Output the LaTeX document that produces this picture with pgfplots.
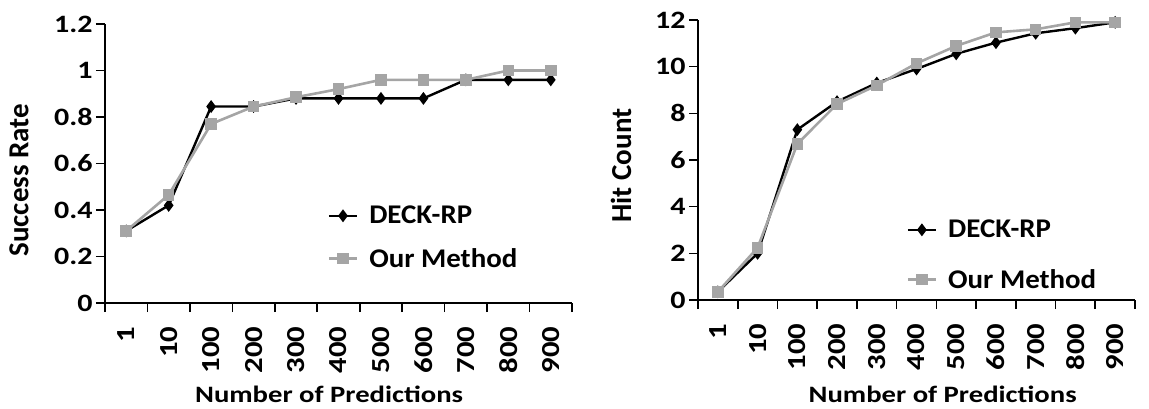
\documentclass[border=0pt]{standalone}
\usepackage{fontspec}
\setmainfont{Carlito}
\newfontfamily\ytf{Carlito}[FakeStretch=1.2]
\newfontfamily\xtf{Carlito}[FakeStretch=1.18]
\newfontfamily\xlf{Carlito}[FakeStretch=1.22]
\newfontfamily\lgf{Carlito}[FakeStretch=1.07]
\usepackage{pgfplots}
\pgfplotsset{compat=1.18}
\definecolor{ourgray}{RGB}{165,165,165}

\newcommand{\yticks}{\ytf\fontsize{25}{28}\selectfont\bfseries}
\newcommand{\xticks}{\xtf\fontsize{26}{29}\selectfont\bfseries}
\newcommand{\xlab}{\xlf\fontsize{23.5}{27}\selectfont\bfseries}
\newcommand{\ylab}{\fontsize{29}{32}\selectfont\bfseries}
\newcommand{\legf}{\lgf\fontsize{27}{30}\selectfont\bfseries}

\pgfplotsset{
  panel/.style={
    scale only axis,
    axis x line*=bottom, axis y line*=left,
    xmin=-0.5, xmax=10.5,
    xtick={-0.5,0.5,...,10.5}, xticklabels={},
    extra x ticks={0,...,10},
    extra x tick labels={1,10,100,200,300,400,500,600,700,800,900},
    extra x tick style={major tick length=0pt, xticklabel shift=20pt},
    tick align=outside, major tick length=9pt,
    tick style={line width=1.6pt, black},
    axis line style={line width=1.8pt},
    xticklabel style={rotate=90, anchor=east, font=\xticks},
    yticklabel style={font=\yticks},
    xlabel style={font=\xlab},
    ylabel style={font=\ylab},
    legend style={draw=none, fill=none, font=\legf, anchor=north west,
                  cells={anchor=west},
                  /tikz/every odd column/.append style={column sep=9pt}},
  },
  deck/.style={black, line width=2.4pt, mark=diamond*, mark size=4.5pt,
               mark options={solid}},
  ours/.style={ourgray, line width=2.6pt, mark=square*, mark size=4.5pt,
               mark options={solid}},
}
\pgfplotsset{legend image code/.code={%
  \draw[mark repeat=2,mark phase=2,#1] plot coordinates {(0pt,0pt) (14pt,0pt) (28pt,0pt)};}}

\begin{document}
\begin{tikzpicture}
\useasboundingbox (0,0) rectangle (1149pt,408pt);

% left: success rate
\begin{axis}[panel,
  at={(105pt,105pt)}, anchor=south west,
  width=467pt, height=279pt,
  ymin=0, ymax=1.2,
  ytick={0,0.2,0.4,0.6,0.8,1,1.2},
  yticklabels={0,0.2,0.4,0.6,0.8,1,1.2},
  ylabel={Success Rate},
  ylabel style={at={(axis description cs:-0.184,0.44)}, anchor=center, rotate=0},
  xlabel={Number of Predictions},
  xlabel style={at={(axis description cs:0.48,-0.328)}, anchor=center},
  legend style={at={(axis description cs:0.47,0.362)}, row sep=19pt},
]
\addplot[deck] coordinates {(0,0.31) (1,0.42) (2,0.845) (3,0.845) (4,0.88) (5,0.88)
  (6,0.88) (7,0.88) (8,0.96) (9,0.96) (10,0.96)};
\addplot[ours] coordinates {(0,0.31) (1,0.465) (2,0.77) (3,0.845) (4,0.885) (5,0.92)
  (6,0.96) (7,0.96) (8,0.96) (9,1.0) (10,1.0)};
\legend{DECK-RP, Our Method}
\end{axis}

% right: hit count
\begin{axis}[panel,
  at={(698pt,108pt)}, anchor=south west,
  width=437pt, height=280pt,
  ymin=0, ymax=12,
  ytick={0,2,4,6,8,10,12},
  yticklabels={0,2,4,6,8,10,12},
  ylabel={Hit Count},
  ylabel style={at={(axis description cs:-0.176,0.48)}, anchor=center, rotate=0},
  xlabel={Number of Predictions},
  xlabel style={at={(axis description cs:0.56,-0.337)}, anchor=center},
  legend style={at={(axis description cs:0.47,0.30)}, row sep=26pt},
]
\addplot[deck] coordinates {(0,0.35) (1,2.0) (2,7.3) (3,8.5) (4,9.3) (5,9.9)
  (6,10.55) (7,11.03) (8,11.43) (9,11.65) (10,11.9)};
\addplot[ours] coordinates {(0,0.35) (1,2.24) (2,6.69) (3,8.4) (4,9.2) (5,10.14)
  (6,10.89) (7,11.47) (8,11.6) (9,11.9) (10,11.9)};
\legend{DECK-RP, Our Method}
\end{axis}
\end{tikzpicture}
\end{document}
